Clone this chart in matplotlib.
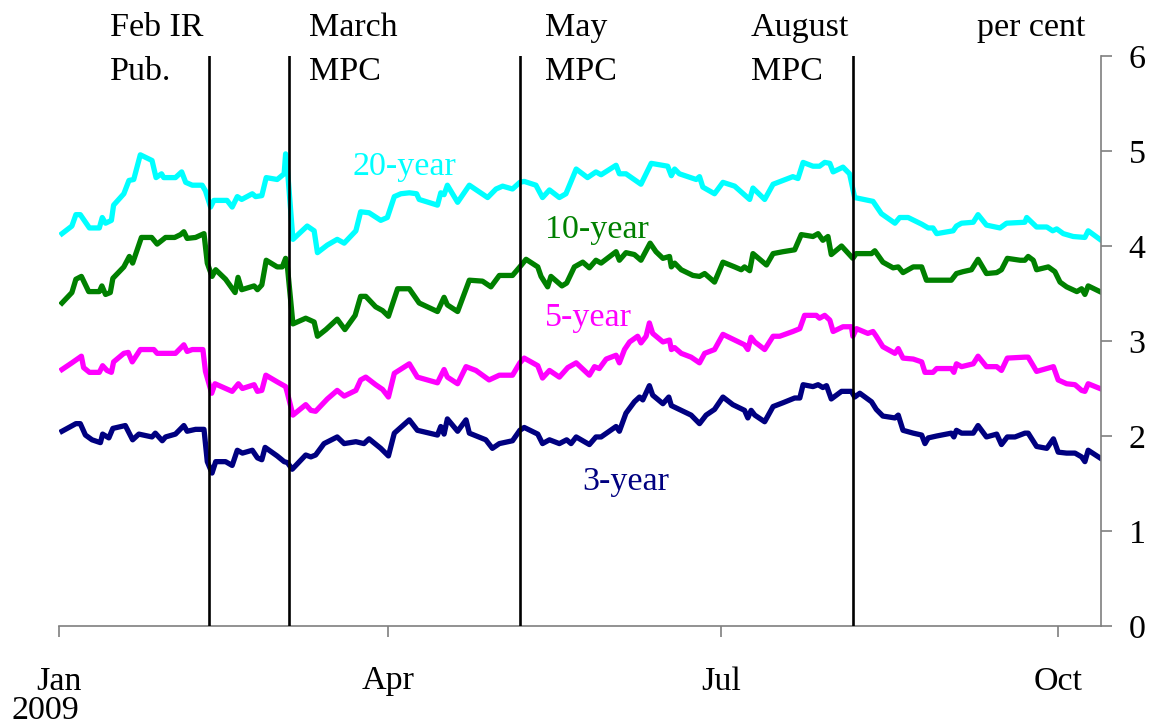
import matplotlib
matplotlib.use("Agg")
import matplotlib.pyplot as plt

plt.rcParams['font.family'] = ['Liberation Serif', 'DejaVu Serif']

# days since 1 Jan 2009, yields in per cent
days_20y = [0.9, 3.6, 4.7, 5.9, 8.4, 11.1, 11.9, 12.8, 14.4, 15.0, 17.8, 19.2, 20.5, 22.3, 25.5, 26.6, 28.1, 28.7,
            31.9, 33.6, 34.7, 36.5, 39.2, 40.1, 41.5, 42.4, 46.0, 47.4, 48.8, 50.0, 52.9, 53.8, 55.5, 56.7, 59.7,
            61.6, 62.0, 62.5, 64.0, 67.9, 69.8, 70.7, 73.4, 76.1, 78.0, 81.2, 82.5, 84.8, 88.0, 89.8, 91.7, 93.5,
            95.8, 97.8, 98.5, 103.5, 104.4, 105.3, 106.2, 109.0, 112.2, 117.2, 119.5, 121.3, 124.0, 126.0, 127.2,
            130.4, 132.2, 134.1, 136.8, 138.6, 141.4, 144.5, 146.8, 148.2, 152.3, 153.2, 155.0, 159.1, 161.9,
            166.4, 167.4, 168.3, 169.6, 174.2, 175.1, 176.0, 179.2, 181.5, 184.7, 188.8, 189.7, 192.9, 195.2,
            197.9, 200.6, 202.0, 203.4, 206.1, 207.9, 209.3, 210.7, 211.6, 214.3, 216.1, 217.5, 222.5, 224.8,
            228.5, 229.8, 232.1, 235.8, 237.6, 238.9, 239.9, 244.4, 245.3, 246.7, 249.9, 251.2, 253.5, 257.2,
            259.0, 264.0, 264.5, 267.2, 270.0, 271.6, 272.7, 274.5, 277.2, 280.4, 281.3, 284.5]
vals_20y = [4.13, 4.21, 4.33, 4.33, 4.19, 4.19, 4.30, 4.24, 4.27, 4.43, 4.55, 4.69, 4.70, 4.96, 4.90, 4.72, 4.76, 4.72,
            4.72, 4.78, 4.67, 4.64, 4.64, 4.58, 4.41, 4.48, 4.48, 4.41, 4.52, 4.49, 4.55, 4.52, 4.53, 4.72, 4.70,
            4.76, 4.97, 4.81, 4.07, 4.21, 4.16, 3.93, 4.01, 4.07, 4.03, 4.16, 4.36, 4.35, 4.27, 4.30, 4.52, 4.55,
            4.56, 4.55, 4.49, 4.43, 4.56, 4.54, 4.64, 4.46, 4.64, 4.51, 4.60, 4.63, 4.60, 4.67, 4.68,
            4.64, 4.51, 4.59, 4.51, 4.55, 4.81, 4.72, 4.78, 4.75, 4.85, 4.76, 4.76, 4.65, 4.87,
            4.84, 4.74, 4.81, 4.76, 4.70, 4.73, 4.62, 4.55, 4.67, 4.63, 4.49, 4.61, 4.49, 4.65,
            4.69, 4.73, 4.71, 4.88, 4.84, 4.84, 4.88, 4.87, 4.78, 4.83, 4.76, 4.51, 4.47, 4.34,
            4.24, 4.30, 4.30, 4.23, 4.19, 4.19, 4.13, 4.16, 4.21, 4.24, 4.25, 4.33, 4.22, 4.19,
            4.24, 4.25, 4.30, 4.20, 4.20, 4.16, 4.18, 4.13, 4.10, 4.09, 4.16, 4.07]

days_10y = [0.9, 3.6, 4.7, 6.2, 8.2, 11.1, 11.8, 12.8, 14.1, 14.8, 17.8, 19.3, 20.2, 21.0, 22.6, 25.4, 26.9, 29.2,
            31.7, 33.3, 34.2, 35.1, 37.4, 39.7, 40.6, 41.9, 42.9, 45.6, 48.2, 49.0, 50.0, 53.4, 54.3, 55.5, 56.7,
            59.7, 61.1, 62.0, 62.5, 64.0, 67.5, 69.8, 70.7, 73.0, 76.1, 78.2, 81.0, 82.5, 83.9, 86.6, 88.5, 90.1,
            92.6, 95.8, 98.5, 103.5, 105.3, 106.2, 109.0, 112.2, 115.8, 118.1, 120.4, 124.0, 126.0, 127.7, 130.9,
            131.8, 133.6, 134.5, 137.5, 138.8, 140.9, 143.2, 145.0, 146.8, 148.2, 152.3, 153.2, 155.0, 157.3,
            159.1, 161.6, 163.2, 165.1, 166.9, 167.4, 168.3, 170.1, 173.3, 175.1, 176.5, 179.2, 181.5, 184.7,
            186.5, 187.4, 188.8, 189.7, 193.4, 195.2, 197.9, 201.1, 202.9, 206.1, 207.5, 208.8, 210.2, 211.1,
            213.9, 217.0, 217.9, 222.1, 223.0, 225.2, 228.0, 229.4, 230.7, 233.5, 235.8, 237.1, 243.9, 245.3,
            247.1, 249.4, 251.2, 253.5, 256.3, 257.6, 259.2, 262.7, 264.0, 264.9, 266.3, 267.2, 270.4, 272.2,
            273.6, 275.4, 278.2, 279.5, 280.4, 281.3, 284.5]
vals_10y = [3.40, 3.51, 3.65, 3.68, 3.52, 3.52, 3.58, 3.49, 3.51, 3.66, 3.78, 3.89, 3.82, 3.91, 4.09, 4.09, 4.02, 4.09,
            4.09, 4.12, 4.15, 4.08, 4.09, 4.13, 3.82, 3.68, 3.75, 3.65, 3.51, 3.67, 3.54, 3.58, 3.54, 3.59, 3.85,
            3.78, 3.78, 3.87, 3.78, 3.18, 3.24, 3.20, 3.05, 3.12, 3.23, 3.12, 3.27, 3.47, 3.47, 3.36, 3.32, 3.26,
            3.55, 3.55, 3.40, 3.31, 3.46, 3.38, 3.31, 3.64, 3.63, 3.57, 3.69, 3.69, 3.78, 3.86, 3.78,
            3.68, 3.57, 3.68, 3.58, 3.61, 3.78, 3.83, 3.77, 3.85, 3.82, 3.94, 3.85, 3.93, 3.91,
            3.85, 4.03, 3.94, 3.87, 3.89, 3.78, 3.82, 3.75, 3.69, 3.68, 3.71, 3.62, 3.83, 3.78,
            3.75, 3.78, 3.74, 3.92, 3.80, 3.92, 3.94, 3.96, 4.12, 4.10, 4.13, 4.06, 4.10, 3.91,
            4.00, 3.87, 3.92, 3.92, 3.95, 3.83, 3.77, 3.78, 3.72, 3.78, 3.78, 3.64, 3.64, 3.71,
            3.73, 3.75, 3.86, 3.71, 3.72, 3.75, 3.87, 3.85, 3.85, 3.89, 3.85, 3.75, 3.78, 3.73,
            3.62, 3.57, 3.52, 3.55, 3.49, 3.58, 3.52]

days_5y = [0.9, 3.6, 6.2, 6.8, 8.4, 11.1, 12.0, 13.2, 14.4, 15.0, 17.8, 19.0, 20.1, 22.3, 26.0, 26.9, 31.9, 34.2,
           35.1, 36.5, 39.4, 40.1, 41.8, 42.7, 47.4, 49.1, 50.2, 53.4, 54.3, 55.5, 56.6, 59.7, 62.0, 62.5, 64.0,
           67.5, 68.9, 70.2, 73.4, 76.1, 78.0, 81.2, 82.5, 83.9, 86.6, 88.5, 90.1, 91.7, 95.8, 98.0, 103.5, 105.3,
           106.2, 109.0, 111.3, 114.0, 117.6, 120.4, 124.0, 126.0, 127.2, 130.9, 132.2, 134.1, 136.8, 139.1,
           141.4, 145.0, 146.4, 147.7, 149.6, 152.3, 153.2, 154.6, 156.0, 158.2, 159.1, 160.5, 161.4, 162.3,
           165.1, 166.9, 167.4, 168.3, 170.1, 172.8, 175.1, 176.5, 179.2, 181.5, 184.7, 187.4, 188.3, 189.2,
           190.2, 192.9, 195.2, 197.0, 200.6, 202.5, 203.8, 207.0, 207.9, 209.3, 210.7, 211.6, 214.3, 216.6,
           217.0, 218.0, 221.1, 222.5, 223.4, 225.2, 228.5, 229.4, 230.7, 233.5, 235.8, 236.7, 238.9, 239.9,
           243.9, 244.6, 245.3, 246.7, 249.9, 251.2, 253.5, 256.3, 257.6, 259.2, 264.0, 264.9, 267.2, 271.8,
           273.1, 275.4, 277.7, 279.5, 280.4, 281.3, 284.5]
vals_5y = [2.70, 2.77, 2.84, 2.72, 2.67, 2.67, 2.74, 2.69, 2.67, 2.78, 2.87, 2.88, 2.78, 2.91, 2.91, 2.87, 2.87, 2.96,
           2.89, 2.91, 2.91, 2.68, 2.45, 2.55, 2.47, 2.55, 2.50, 2.54, 2.47, 2.48, 2.64, 2.57, 2.52, 2.45, 2.22,
           2.33, 2.27, 2.26, 2.39, 2.48, 2.42, 2.48, 2.59, 2.62, 2.54, 2.49, 2.41, 2.66, 2.76, 2.62, 2.56, 2.70,
           2.62, 2.55, 2.73, 2.69, 2.59, 2.64, 2.64, 2.77, 2.82, 2.74, 2.61, 2.69, 2.62, 2.72,
           2.77, 2.64, 2.73, 2.71, 2.81, 2.85, 2.77, 2.91, 2.99, 3.05, 2.98, 3.05, 3.19, 3.08,
           2.99, 3.01, 2.91, 2.93, 2.87, 2.83, 2.77, 2.87, 2.91, 3.07, 3.01, 2.96, 2.91, 3.04,
           2.99, 2.91, 3.05, 3.05, 3.10, 3.13, 3.27, 3.27, 3.24, 3.27, 3.22, 3.10, 3.15, 3.15,
           3.05, 3.13, 3.08, 3.10, 3.05, 2.94, 2.87, 2.92, 2.82, 2.81, 2.78, 2.67, 2.67, 2.71,
           2.71, 2.67, 2.76, 2.73, 2.76, 2.84, 2.73, 2.73, 2.69, 2.82, 2.83, 2.83, 2.68, 2.73,
           2.59, 2.55, 2.54, 2.48, 2.47, 2.55, 2.50]

days_3y = [0.9, 4.7, 5.9, 7.3, 9.1, 11.4, 12.0, 13.7, 14.8, 18.2, 20.2, 21.9, 25.5, 26.4, 28.3, 29.2, 31.9, 34.2,
           35.1, 37.4, 39.7, 40.6, 41.9, 42.9, 45.6, 47.4, 48.8, 50.2, 52.9, 54.3, 55.5, 56.4, 59.7, 61.6, 62.5,
           63.8, 67.5, 68.9, 70.2, 72.5, 76.1, 78.0, 81.2, 83.4, 84.8, 88.0, 90.1, 91.7, 95.8, 98.0, 103.5, 104.4,
           105.3, 106.2, 109.0, 111.3, 112.2, 116.7, 118.5, 120.4, 124.0, 126.0, 127.2, 130.9, 132.2, 134.1,
           136.8, 138.8, 140.0, 141.4, 145.0, 146.8, 148.2, 152.3, 153.2, 155.0, 157.3, 158.7, 159.6, 161.4,
           162.3, 165.1, 166.7, 167.4, 170.1, 172.8, 175.1, 176.9, 179.2, 181.5, 184.2, 187.4, 188.3, 189.2,
           190.2, 192.9, 195.2, 197.9, 201.1, 202.5, 203.4, 206.1, 207.5, 208.8, 209.8, 211.1, 213.9, 216.6,
           217.5, 218.9, 222.1, 223.4, 225.2, 228.5, 229.4, 230.7, 233.5, 235.8, 236.7, 237.6, 239.9, 243.9,
           244.6, 245.3, 246.7, 249.9, 251.2, 253.5, 256.3, 257.6, 259.2, 261.3, 264.0, 264.9, 267.2, 270.0,
           271.8, 273.1, 275.4, 277.7, 279.5, 280.4, 281.3, 284.5]
vals_3y = [2.05, 2.13, 2.13, 2.01, 1.96, 1.93, 2.02, 1.98, 2.08, 2.11, 1.96, 2.02, 1.99, 2.03, 1.95, 1.99, 2.02, 2.11,
           2.05, 2.07, 2.07, 1.73, 1.61, 1.73, 1.73, 1.69, 1.85, 1.82, 1.85, 1.77, 1.75, 1.88, 1.79, 1.73, 1.72,
           1.65, 1.80, 1.78, 1.80, 1.92, 1.99, 1.92, 1.94, 1.92, 1.97, 1.87, 1.79, 2.03, 2.17, 2.06, 2.01, 2.10,
           2.02, 2.18, 2.05, 2.17, 2.03, 1.96, 1.87, 1.92, 1.95, 2.06, 2.09, 2.02, 1.92, 1.96,
           1.92, 1.96, 1.92, 1.99, 1.91, 1.99, 1.99, 2.10, 2.05, 2.24, 2.36, 2.41, 2.38, 2.53,
           2.43, 2.34, 2.41, 2.32, 2.27, 2.22, 2.13, 2.22, 2.28, 2.41, 2.33, 2.27, 2.19, 2.27,
           2.22, 2.15, 2.31, 2.35, 2.40, 2.40, 2.54, 2.52, 2.54, 2.51, 2.53, 2.39, 2.47, 2.47,
           2.41, 2.45, 2.36, 2.28, 2.21, 2.19, 2.22, 2.06, 2.03, 2.01, 1.92, 1.98, 2.00, 2.03,
           1.99, 2.06, 2.03, 2.03, 2.11, 1.99, 2.02, 1.91, 1.99, 1.99, 2.03, 2.03, 1.89, 1.87,
           1.97, 1.83, 1.82, 1.82, 1.78, 1.73, 1.85, 1.77]

# event dates (days since 1 Jan): Feb IR 11 Feb, MPC 5 Mar, 7 May, 6 Aug
event_days = [41, 63, 126, 217]
month_ticks = [0, 90, 181, 273]
month_labels = ['Jan', 'Apr', 'Jul', 'Oct']

W, H = 1159, 727
fig = plt.figure(figsize=(W / 100, H / 100), dpi=100)
ax = fig.add_axes([58.7 / W, 1 - 626 / H, (1101 - 58.7) / W, 570 / H])

lw = 3.8
ax.plot(days_20y, vals_20y, color='#00FFFF', lw=lw, solid_joinstyle='round')
ax.plot(days_10y, vals_10y, color='#008000', lw=lw, solid_joinstyle='round')
ax.plot(days_5y, vals_5y, color='#FF00FF', lw=lw, solid_joinstyle='round')
ax.plot(days_3y, vals_3y, color='#000080', lw=lw, solid_joinstyle='round')
for d in event_days:
    ax.axvline(d, color='black', lw=1.9, zorder=5)

ax.set_xlim(0, 284.8)
ax.set_ylim(0, 6)

for s in ['top', 'left']:
    ax.spines[s].set_visible(False)
for s in ['bottom', 'right']:
    ax.spines[s].set_color('#7f7f7f')
    ax.spines[s].set_linewidth(1.2)

ax.yaxis.tick_right()
ax.set_yticks(range(0, 7))
ax.set_xticks(month_ticks)
ax.set_xticklabels(month_labels)
ax.tick_params(axis='y', direction='out', length=7.8, width=1.2, color='#7f7f7f', pad=12, labelsize=24.5)
ax.tick_params(axis='x', direction='out', length=7.8, width=1.2, color='#7f7f7f', pad=21, labelsize=24.5)

fs = 24.5
def ftext(x, y, s, **kw):
    fig.text(x / W, 1 - y / H, s, fontsize=fs, va='baseline', **kw)

ftext(110, 36, 'Feb IR')
ftext(110, 80, 'Pub.')
ftext(309, 36, 'March')
ftext(309, 80, 'MPC')
ftext(545, 36, 'May')
ftext(545, 80, 'MPC')
ftext(751, 36, 'August')
ftext(751, 80, 'MPC')
ftext(977, 36, 'per cent')
ftext(12, 719, '2009')

ftext(352, 175, '20-year', color='#00FFFF')
ftext(545, 238, '10-year', color='#008000')
ftext(545, 326, '5-year', color='#FF00FF')
ftext(582, 490, '3-year', color='#000080')

fig.savefig('out.png', dpi=100)
